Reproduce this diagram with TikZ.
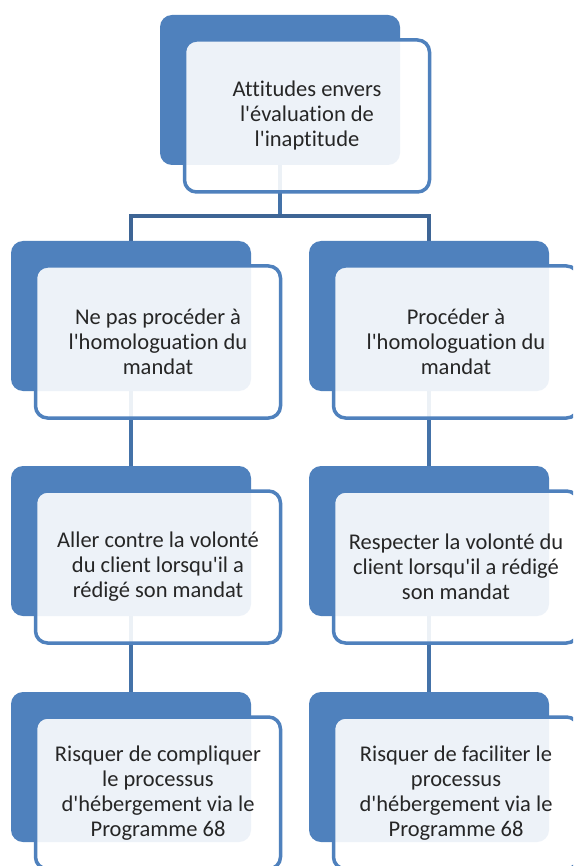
\documentclass[tikz,border=0pt]{standalone}
\usepackage{fontspec}
\setmainfont{Carlito}[Ligatures={NoCommon}]
\usepackage{xcolor}
\usepackage{tikz}
\usetikzlibrary{backgrounds}

\definecolor{accent}{HTML}{4F81BD}
\definecolor{linkblue}{HTML}{4472A8}
\definecolor{forkblue}{HTML}{3E6595}
\definecolor{inktext}{HTML}{262626}

\newcommand{\ap}{\textquotesingle}

\tikzset{
  backbox/.style={draw=none, fill=accent, rounded corners=12pt,
    minimum width=240pt, minimum height=150pt},
  frontbox/.style={draw=accent, line width=3.5pt, fill=white, fill opacity=0.9,
    text opacity=1, rounded corners=12pt, minimum width=245pt,
    minimum height=152pt, align=center, text=inktext,
    font=\fontsize{22.5}{25}\selectfont},
  link/.style={draw=linkblue, line width=4.5pt}
}

\begin{document}
\begin{tikzpicture}[x=1pt, y=-1pt]
\clip (0,0) rectangle (573,866);
% top
\node[backbox] (top-b) at (280,90) {};
\node[frontbox] (top) at (307,116) {Attitudes envers\\l\ap évaluation de\\l\ap inaptitude};
% left column
\node[backbox] (l1-b) at (131,316) {};
\node[frontbox] (l1) at (158,342) {Ne pas procéder à\\l\ap homologuation du\\mandat};
\node[backbox] (l2-b) at (131,541) {};
\node[frontbox] (l2) at (158,567) {Aller contre la volonté\\du client lorsqu\ap il a\\rédigé son mandat};
\node[backbox] (l3-b) at (131,767) {};
\node[frontbox] (l3) at (158,793) {Risquer de compliquer\\le processus\\d\ap hébergement via le\\Programme 68};
% right column
\node[backbox] (r1-b) at (429,316) {};
\node[frontbox] (r1) at (456,342) {Procéder à\\l\ap homologuation du\\mandat};
\node[backbox] (r2-b) at (429,541) {};
\node[frontbox] (r2) at (456,567) {Respecter la volonté du\\client lorsqu\ap il a rédigé\\son mandat};
\node[backbox] (r3-b) at (429,767) {};
\node[frontbox] (r3) at (456,793) {Risquer de faciliter le\\processus\\d\ap hébergement via le\\Programme 68};
% connectors
\begin{pgfonlayer}{background}
\fill[white] (0,0) rectangle (573,866);
\coordinate (fork) at (280,216);
\draw[link] (top-b.center) -- (fork);
\draw[link, draw=forkblue] (fork) -| (l1-b.center);
\draw[link, draw=forkblue] (fork) -| (r1-b.center);
\draw[link] (l1-b.center) -- (l2-b.center);
\draw[link] (l2-b.center) -- (l3-b.center);
\draw[link] (r1-b.center) -- (r2-b.center);
\draw[link] (r2-b.center) -- (r3-b.center);
\end{pgfonlayer}
\end{tikzpicture}
\end{document}
